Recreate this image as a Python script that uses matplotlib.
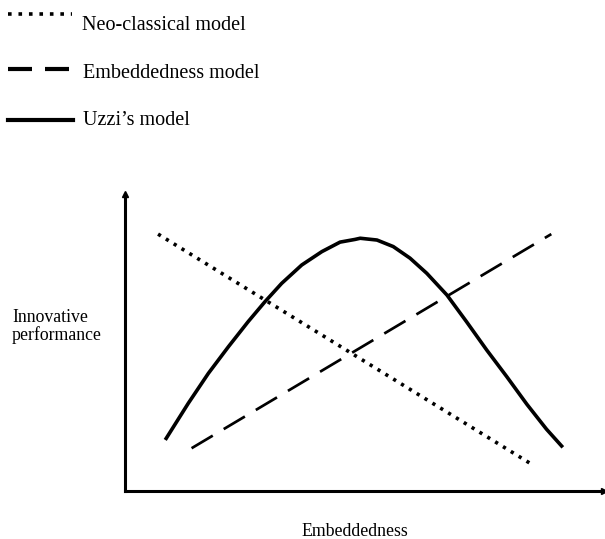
import matplotlib
matplotlib.use("Agg")
import matplotlib.pyplot as plt

# ---- data (axis units 0..10) ----
neo_x = [0.69, 8.51]
neo_y = [8.65, 0.88]

emb_x = [1.39, 8.90]
emb_y = [1.44, 8.65]

uzzi_x = [0.84, 1.32, 1.74, 2.16, 2.57, 2.92, 3.27, 3.69, 4.11, 4.49, 4.80, 4.91,
          5.26, 5.60, 5.95, 6.30, 6.72, 7.13, 7.55, 7.97, 8.39, 8.80, 9.14]
uzzi_y = [1.72, 2.95, 3.96, 4.86, 5.70, 6.37, 6.99, 7.61, 8.06, 8.38, 8.47, 8.51,
          8.45, 8.23, 7.84, 7.33, 6.60, 5.70, 4.75, 3.85, 2.92, 2.08, 1.47]

legend_labels = ["Neo-classical model", "Embeddedness model", "Uzzi\u2019s model"]
x_label = "Embeddedness"
y_label_lines = ["Innovative", "performance"]

W, H = 605, 539
fig = plt.figure(figsize=(W / 100, H / 100), dpi=100)
plt.rcParams['font.family'] = ['Liberation Serif', 'DejaVu Serif']

# overlay axes in pixel coordinates for text / legend decorations
ov = fig.add_axes([0, 0, 1, 1])
ov.set_xlim(0, W)
ov.set_ylim(H, 0)
ov.axis('off')

# main plot axes
left_px, right_px, top_px, bot_px = 125, 604, 194, 491
ax = fig.add_axes([left_px / W, (H - bot_px) / H, (right_px - left_px) / W, (bot_px - top_px) / H])
ax.set_xlim(0, 10)
ax.set_ylim(0, 10)
for s in ['top', 'right']:
    ax.spines[s].set_visible(False)
for s in ['left', 'bottom']:
    ax.spines[s].set_linewidth(2.2)
ax.set_xticks([])
ax.set_yticks([])
ax.patch.set_alpha(0)
# arrowheads
ax.plot(1, 0, ">k", ms=5, transform=ax.transAxes, clip_on=False)
ax.plot(0, 1, "^k", ms=5, transform=ax.transAxes, clip_on=False)

ax.plot(neo_x, neo_y, color='black', lw=2.6, linestyle=(0, (0.9, 1.65)), dash_capstyle='butt')
ax.plot(emb_x, emb_y, color='black', lw=1.95, linestyle=(0, (9.1, 4.7)), dash_capstyle='butt')
ax.plot(uzzi_x, uzzi_y, color='black', lw=2.6, solid_joinstyle='round', solid_capstyle='butt')

# legend (manual)
ov.plot([8, 72], [14, 14], color='black', lw=2.6, linestyle=(0, (1.0, 1.9)), dash_capstyle='butt')
ov.plot([8, 70], [69, 69], color='black', lw=3.0, linestyle=(0, (5.76, 3.12)), dash_capstyle='butt')
ov.plot([8, 73], [120, 120], color='black', lw=3.0)
fs_leg = 14.5
ov.text(82, 29.5, legend_labels[0], fontsize=fs_leg, va='baseline', ha='left')
ov.text(83, 78.5, legend_labels[1], fontsize=fs_leg, va='baseline', ha='left')
ov.text(83, 125, legend_labels[2], fontsize=fs_leg, va='baseline', ha='left')

fs_lab = 12.8
ov.text(12, 322, y_label_lines[0], fontsize=fs_lab, va='baseline', ha='left')
ov.text(12, 340, y_label_lines[1], fontsize=fs_lab, va='baseline', ha='left')
ov.text(355, 536.5, x_label, fontsize=fs_lab, va='baseline', ha='center')

fig.savefig("out.png", dpi=100)
